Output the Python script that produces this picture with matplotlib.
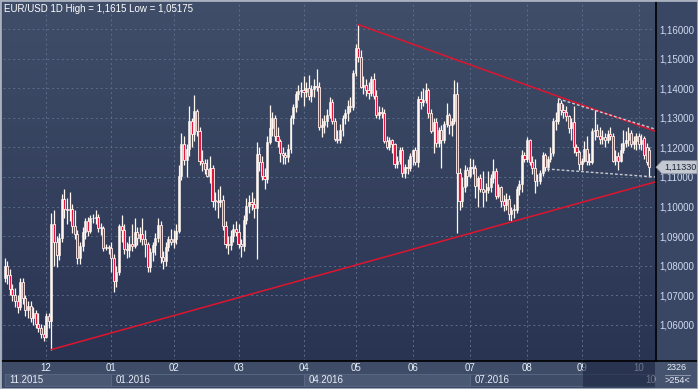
import numpy as np
import matplotlib
matplotlib.use('Agg')
import matplotlib.pyplot as plt
from matplotlib.patches import Rectangle, Polygon
from matplotlib.lines import Line2D

plt.rcParams['font.family'] = ['Liberation Sans', 'DejaVu Sans']

# daily candles, Nov 2015 .. Oct 2016
opens = [
    1.0760, 1.0800, 1.0770, 1.0720, 1.0700, 1.0680, 1.0660, 1.0745, 1.0690, 1.0650, 1.0665, 1.0625, 1.0640, 1.0605, 1.0590, 1.0570,
    1.0560, 1.0630, 1.0613, 1.0940, 1.0880, 1.0836, 1.0895, 1.1025, 1.0993, 1.0990, 1.0991, 1.0933, 1.0907, 1.0827, 1.0866, 1.0915, 1.0950, 1.0918, 1.0963, 1.0960, 1.0965, 1.0928, 1.0929, 1.0861, 1.0865,
    1.0860, 1.0827, 1.0748, 1.0780, 1.0933, 1.0922, 1.0857, 1.0853, 1.0873, 1.0866, 1.0915, 1.0894, 1.0906, 1.0889, 1.0872, 1.0796, 1.0847, 1.0869, 1.0893, 1.0938, 1.0830, 1.0815, 1.0862, 1.0890,
    1.0880, 1.0890, 1.0919, 1.1105, 1.1210, 1.1157, 1.1195, 1.1289, 1.1245, 1.1322, 1.1256, 1.1155, 1.1148, 1.1127, 1.1104, 1.1131, 1.1020, 1.1018, 1.1017, 1.1023, 1.0934, 1.0873, 1.0870, 1.0900, 1.0925,
    1.0915, 1.0873, 1.0867, 1.0955, 1.1002, 1.1014, 1.1008, 1.0995, 1.1178, 1.1152, 1.1105, 1.1094, 1.1217, 1.1267, 1.1300, 1.1240, 1.1222, 1.1180, 1.1175, 1.1166, 1.1196, 1.1300, 1.1335, 1.1380, 1.1390,
    1.1393, 1.1387, 1.1400, 1.1375, 1.1398, 1.1409, 1.1405, 1.1270, 1.1275, 1.1290, 1.1311, 1.1355, 1.1290, 1.1230, 1.1225, 1.1260, 1.1300, 1.1316, 1.1340, 1.1335,
    1.1450, 1.1535, 1.1505, 1.1405, 1.1410, 1.1395, 1.1385, 1.1430, 1.1375, 1.1310, 1.1320, 1.1315, 1.1222, 1.1200, 1.1225, 1.1210, 1.1145, 1.1155, 1.1190, 1.1115, 1.1135, 1.1130,
    1.1170, 1.1190, 1.1150, 1.1365, 1.1355, 1.1360, 1.1395, 1.1315, 1.1255, 1.1285, 1.1215, 1.1260, 1.1225, 1.1280, 1.1310, 1.1275, 1.1290, 1.1380, 1.1115, 1.1020, 1.1065, 1.1125,
    1.1105, 1.1135, 1.1130, 1.1070, 1.1095, 1.1060, 1.1050, 1.1055, 1.1065, 1.1095, 1.1120, 1.1035, 1.1065, 1.1020, 1.1005, 1.1025, 1.0975, 1.0990, 1.0990, 1.1060, 1.1075, 1.1175,
    1.1160, 1.1225, 1.1150, 1.1130, 1.1085, 1.1085, 1.1115, 1.1175, 1.1135, 1.1160, 1.1180, 1.1290, 1.1290, 1.1350, 1.1325, 1.1320, 1.1305, 1.1265, 1.1285, 1.1200, 1.1185,
    1.1145, 1.1155, 1.1195, 1.1155, 1.1150, 1.1255, 1.1260, 1.1240, 1.1230, 1.1235, 1.1225, 1.1245, 1.1240, 1.1155, 1.1170, 1.1155, 1.1190, 1.1215, 1.1225, 1.1250, 1.1210, 1.1220,
    1.1240, 1.1210, 1.1232, 1.1200, 1.1190,
]
highs = [
    1.0826, 1.0815, 1.0790, 1.0740, 1.0725, 1.0700, 1.0760, 1.0760, 1.0700, 1.0680, 1.0680, 1.0660, 1.0650, 1.0640, 1.0605, 1.0600,
    1.0640, 1.0640, 1.0980, 1.0990, 1.0900, 1.0910, 1.1042, 1.1060, 1.1030, 1.1050, 1.1010, 1.0990, 1.0920, 1.0880, 1.0930, 1.0960, 1.0965, 1.0970, 1.0975, 1.0990, 1.0975, 1.0945, 1.0935, 1.0875, 1.0870,
    1.0880, 1.0840, 1.0800, 1.0941, 1.0970, 1.0940, 1.0880, 1.0900, 1.0940, 1.0960, 1.0930, 1.0930, 1.0960, 1.0920, 1.0880, 1.0860, 1.0880, 1.0910, 1.0960, 1.0950, 1.0850, 1.0880, 1.0900, 1.0925,
    1.0920, 1.0940, 1.1140, 1.1250, 1.1240, 1.1210, 1.1340, 1.1300, 1.1376, 1.1330, 1.1270, 1.1190, 1.1160, 1.1160, 1.1170, 1.1140, 1.1050, 1.1060, 1.1070, 1.1040, 1.0950, 1.0900, 1.0920, 1.0940, 1.0950,
    1.0940, 1.0890, 1.0970, 1.1030, 1.1040, 1.1050, 1.1030, 1.1218, 1.1200, 1.1170, 1.1130, 1.1240, 1.1342, 1.1320, 1.1310, 1.1270, 1.1230, 1.1200, 1.1185, 1.1210, 1.1310, 1.1345, 1.1390, 1.1410, 1.1420,
    1.1440, 1.1420, 1.1445, 1.1410, 1.1430, 1.1465, 1.1420, 1.1300, 1.1310, 1.1330, 1.1370, 1.1365, 1.1300, 1.1260, 1.1280, 1.1310, 1.1330, 1.1360, 1.1370, 1.1460,
    1.1550, 1.1615, 1.1530, 1.1440, 1.1430, 1.1420, 1.1440, 1.1450, 1.1395, 1.1340, 1.1335, 1.1330, 1.1240, 1.1235, 1.1230, 1.1215, 1.1170, 1.1200, 1.1200, 1.1145, 1.1160, 1.1180,
    1.1195, 1.1200, 1.1375, 1.1390, 1.1400, 1.1416, 1.1400, 1.1330, 1.1300, 1.1300, 1.1270, 1.1275, 1.1290, 1.1350, 1.1315, 1.1300, 1.1428, 1.1420, 1.1130, 1.1100, 1.1140, 1.1135,
    1.1165, 1.1160, 1.1140, 1.1105, 1.1110, 1.1120, 1.1080, 1.1120, 1.1110, 1.1160, 1.1130, 1.1075, 1.1070, 1.1040, 1.1045, 1.1040, 1.1000, 1.1010, 1.1070, 1.1090, 1.1190, 1.1185,
    1.1234, 1.1228, 1.1170, 1.1160, 1.1110, 1.1125, 1.1185, 1.1180, 1.1170, 1.1200, 1.1300, 1.1320, 1.1366, 1.1360, 1.1345, 1.1340, 1.1310, 1.1300, 1.1340, 1.1210, 1.1190,
    1.1165, 1.1220, 1.1240, 1.1180, 1.1265, 1.1327, 1.1280, 1.1270, 1.1260, 1.1250, 1.1260, 1.1270, 1.1250, 1.1190, 1.1185, 1.1215, 1.1260, 1.1255, 1.1270, 1.1260, 1.1240, 1.1250,
    1.1250, 1.1245, 1.1240, 1.1215, 1.1200,
]
lows = [
    1.0745, 1.0740, 1.0700, 1.0680, 1.0660, 1.0640, 1.0650, 1.0670, 1.0630, 1.0625, 1.0610, 1.0600, 1.0590, 1.0575, 1.0555, 1.0545,
    1.0555, 1.0590, 1.0517, 1.0800, 1.0795, 1.0820, 1.0880, 1.0960, 1.0940, 1.0950, 1.0910, 1.0890, 1.0805, 1.0805, 1.0850, 1.0890, 1.0900, 1.0910, 1.0945, 1.0940, 1.0915, 1.0905, 1.0850, 1.0855, 1.0840,
    1.0780, 1.0710, 1.0730, 1.0770, 1.0880, 1.0840, 1.0825, 1.0830, 1.0850, 1.0860, 1.0870, 1.0880, 1.0870, 1.0830, 1.0780, 1.0780, 1.0815, 1.0835, 1.0880, 1.0810, 1.0790, 1.0800, 1.0850, 1.0870,
    1.0860, 1.0875, 1.0910, 1.1090, 1.1140, 1.1100, 1.1170, 1.1200, 1.1220, 1.1240, 1.1140, 1.1120, 1.1110, 1.1100, 1.1080, 1.1000, 1.0990, 1.0960, 1.1000, 1.0920, 1.0860, 1.0840, 1.0855, 1.0880, 1.0900,
    1.0860, 1.0830, 1.0850, 1.0940, 1.0980, 1.0990, 1.0960, 1.0822, 1.1120, 1.1090, 1.1060, 1.1080, 1.1210, 1.1240, 1.1220, 1.1200, 1.1150, 1.1145, 1.1145, 1.1150, 1.1180, 1.1280, 1.1320, 1.1360, 1.1370,
    1.1340, 1.1370, 1.1360, 1.1355, 1.1370, 1.1390, 1.1260, 1.1235, 1.1250, 1.1270, 1.1300, 1.1280, 1.1220, 1.1215, 1.1215, 1.1240, 1.1280, 1.1290, 1.1320, 1.1325,
    1.1440, 1.1490, 1.1400, 1.1380, 1.1375, 1.1365, 1.1375, 1.1365, 1.1300, 1.1295, 1.1300, 1.1215, 1.1195, 1.1190, 1.1180, 1.1130, 1.1130, 1.1145, 1.1100, 1.1097, 1.1110, 1.1120,
    1.1140, 1.1140, 1.1135, 1.1330, 1.1340, 1.1350, 1.1300, 1.1250, 1.1180, 1.1200, 1.1200, 1.1130, 1.1215, 1.1270, 1.1245, 1.1240, 1.1280, 1.0912, 1.0990, 1.1000, 1.1050, 1.1070,
    1.1095, 1.1110, 1.1030, 1.1000, 1.1050, 1.1000, 1.1020, 1.1045, 1.1050, 1.1080, 1.1025, 1.1030, 1.1000, 1.0985, 1.0990, 1.0955, 1.0952, 1.0960, 1.0980, 1.1040, 1.1050, 1.1150,
    1.1150, 1.1140, 1.1110, 1.1045, 1.1070, 1.1075, 1.1105, 1.1120, 1.1120, 1.1150, 1.1170, 1.1260, 1.1280, 1.1310, 1.1300, 1.1290, 1.1250, 1.1225, 1.1180, 1.1170, 1.1125,
    1.1125, 1.1150, 1.1140, 1.1140, 1.1145, 1.1225, 1.1235, 1.1210, 1.1210, 1.1200, 1.1215, 1.1225, 1.1150, 1.1140, 1.1125, 1.1150, 1.1180, 1.1200, 1.1205, 1.1200, 1.1195, 1.1190,
    1.1195, 1.1190, 1.1160, 1.1140, 1.1100,
]
closes = [
    1.0800, 1.0770, 1.0720, 1.0700, 1.0680, 1.0660, 1.0745, 1.0690, 1.0650, 1.0665, 1.0625, 1.0640, 1.0605, 1.0590, 1.0570, 1.0560,
    1.0630, 1.0613, 1.0940, 1.0880, 1.0836, 1.0895, 1.1025, 1.0993, 1.0990, 1.0991, 1.0933, 1.0907, 1.0827, 1.0866, 1.0915, 1.0950, 1.0918, 1.0963, 1.0960, 1.0965, 1.0928, 1.0929, 1.0861, 1.0865, 1.0860,
    1.0827, 1.0748, 1.0780, 1.0933, 1.0922, 1.0857, 1.0853, 1.0873, 1.0866, 1.0915, 1.0894, 1.0906, 1.0889, 1.0872, 1.0796, 1.0847, 1.0869, 1.0893, 1.0938, 1.0830, 1.0815, 1.0862, 1.0890, 1.0880,
    1.0890, 1.0919, 1.1105, 1.1210, 1.1157, 1.1195, 1.1289, 1.1245, 1.1322, 1.1256, 1.1155, 1.1148, 1.1127, 1.1104, 1.1131, 1.1020, 1.1018, 1.1017, 1.1023, 1.0934, 1.0873, 1.0870, 1.0900, 1.0925, 1.0915,
    1.0873, 1.0867, 1.0955, 1.1002, 1.1014, 1.1008, 1.0995, 1.1178, 1.1152, 1.1105, 1.1094, 1.1217, 1.1267, 1.1300, 1.1240, 1.1222, 1.1180, 1.1175, 1.1166, 1.1196, 1.1300, 1.1335, 1.1380, 1.1390, 1.1393,
    1.1387, 1.1400, 1.1375, 1.1398, 1.1409, 1.1405, 1.1270, 1.1275, 1.1290, 1.1311, 1.1355, 1.1290, 1.1230, 1.1225, 1.1260, 1.1300, 1.1316, 1.1340, 1.1335, 1.1450,
    1.1535, 1.1505, 1.1405, 1.1410, 1.1395, 1.1385, 1.1430, 1.1375, 1.1310, 1.1320, 1.1315, 1.1222, 1.1200, 1.1225, 1.1210, 1.1145, 1.1155, 1.1190, 1.1115, 1.1135, 1.1130, 1.1170,
    1.1190, 1.1150, 1.1365, 1.1355, 1.1360, 1.1395, 1.1315, 1.1255, 1.1285, 1.1215, 1.1260, 1.1225, 1.1280, 1.1310, 1.1275, 1.1290, 1.1380, 1.1115, 1.1020, 1.1065, 1.1125, 1.1105,
    1.1135, 1.1130, 1.1070, 1.1095, 1.1060, 1.1050, 1.1055, 1.1065, 1.1095, 1.1120, 1.1035, 1.1065, 1.1020, 1.1005, 1.1025, 1.0975, 1.0990, 1.0990, 1.1060, 1.1075, 1.1175, 1.1160,
    1.1225, 1.1150, 1.1130, 1.1085, 1.1085, 1.1115, 1.1175, 1.1135, 1.1160, 1.1180, 1.1290, 1.1290, 1.1350, 1.1325, 1.1320, 1.1305, 1.1265, 1.1285, 1.1200, 1.1185, 1.1145,
    1.1155, 1.1195, 1.1155, 1.1150, 1.1255, 1.1260, 1.1240, 1.1230, 1.1235, 1.1225, 1.1245, 1.1240, 1.1155, 1.1170, 1.1155, 1.1190, 1.1215, 1.1225, 1.1250, 1.1210, 1.1220, 1.1240,
    1.1210, 1.1225, 1.1175, 1.1150, 1.1133,
]

month_starts = [16, 41, 65, 90, 115, 135, 157, 179, 201, 222, 244]
month_labels = ['12', '01', '02', '03', '04', '05', '06', '07', '08', '09', '10']
period_labels = ['11.2015', '01.2016', '04.2016', '07.2016']
period_bounds = [(0.2, 41), (41, 115), (115, 179), (179, 250.2)]
price_ticks = [1.06, 1.07, 1.08, 1.09, 1.10, 1.11, 1.12, 1.13, 1.14, 1.15, 1.16]

# trend lines drawn on the chart: (index, price) end points
support_line = ([18, 250.2], [1.0517, 1.1083])
resist_line = ([136, 250.2], [1.1615, 1.1255])
dash_upper = ([213, 250.2], [1.1364, 1.1262])
dash_lower = ([208.7, 250.2], [1.1127, 1.1100])
last_price = 1.11330

W, H = 698, 389
fig = plt.figure(figsize=(W / 100, H / 100), dpi=100)
fig.patch.set_facecolor('#3a4764')

def fig_rect(x0, y0, x1, y1):
    # pixel box (top-left origin) -> figure fraction [l, b, w, h]
    return [x0 / W, 1 - y1 / H, (x1 - x0) / W, (y1 - y0) / H]

pos = fig_rect(3, 1, 655, 361)

# gradient background
bg = fig.add_axes(pos, zorder=0)
grad = np.linspace(0, 1, 256).reshape(-1, 1)
top_c = np.array([64, 78, 105]) / 255
bot_c = np.array([41, 52, 82]) / 255
img = top_c[None, None, :] * (1 - grad[:, :, None]) + bot_c[None, None, :] * grad[:, :, None]
bg.imshow(img, aspect='auto', extent=[0, 1, 0, 1])
bg.set_axis_off()

ax = fig.add_axes(pos, zorder=1)
ax.patch.set_alpha(0)

o = np.array(opens); h = np.array(highs); l = np.array(lows); c = np.array(closes)
x = np.arange(len(c))
up = c >= o
bottom = np.minimum(o, c)
height = np.maximum(np.abs(c - o), 0.0003)
cream = '#fff6f0'

ax.vlines(x, l, h, color=cream, linewidth=0.9, zorder=3)
ax.bar(x[up], height[up], bottom=bottom[up], width=0.75, color=cream, edgecolor=cream, linewidth=0.4, zorder=4)
ax.bar(x[~up], height[~up], bottom=bottom[~up], width=0.8, color='#e2173d', edgecolor=cream, linewidth=0.6, zorder=4)

ax.plot(*support_line, color='#e0142e', linewidth=1.1, zorder=5)
ax.plot(*resist_line, color='#e0142e', linewidth=1.1, zorder=5)
ax.plot(*dash_upper, color='#c9ccd4', linewidth=1.0, linestyle=(0, (2, 1.5)), zorder=5)
ax.plot(*dash_lower, color='#c9ccd4', linewidth=1.0, linestyle=(0, (2, 1.5)), zorder=5)

ax.set_xlim(-0.6, 250.2)
ax.set_ylim(1.16 - 332 / 2960, 1.16 + 28 / 2960)
ax.set_xticks(month_starts)
ax.set_yticks(price_ticks)
ax.set_yticklabels([f'{p:.5f}'.replace('.', ',') for p in price_ticks])
ax.yaxis.tick_right()
ax.tick_params(axis='y', length=0, pad=3, labelsize=7, labelcolor='#cfdbf0')
ax.tick_params(axis='x', length=0, labelbottom=False)
ax.grid(True, color='#5d6c8a', linestyle=(0, (2, 3)), linewidth=0.7)
for s in ax.spines.values():
    s.set_visible(False)

fig.text(4 / W, 1 - 9 / H, 'EUR/USD 1D High = 1,1615 Low = 1,05175', color='white',
         fontsize=7, va='center', ha='left')

# bottom time axis
axb = fig.add_axes(fig_rect(3, 361, 655, 387), sharex=ax, zorder=1)
axb.set_ylim(0, 1)
axb.set_axis_off()
axb.add_patch(Rectangle((-0.6, 0), 251, 1, color='#3e4c68', zorder=0))
for i, (lab, (a, b)) in enumerate(zip(period_labels, period_bounds)):
    fc = '#4a5873' if i % 2 == 0 else '#3e4c68'
    axb.add_patch(Rectangle((a, 0.03), b - a, 0.47, facecolor=fc, edgecolor='#5b6985', linewidth=0.6, zorder=1))
    axb.text(a + 1.8, 0.26, lab, color='#e8eef8', fontsize=7, va='center', ha='left', zorder=2)
for pos_i, lab in zip(month_starts, month_labels):
    axb.text(pos_i, 0.72, lab, color='#e8eef8', fontsize=7, va='center', ha='center', zorder=2)
axb.text(248.5, 0.26, '10', color='#e8eef8', fontsize=7, va='center', ha='center', zorder=2)
axb.add_patch(Rectangle((222.5, 0), 250.2 - 222.5, 1, facecolor='#1c2540', alpha=0.6, zorder=3))

# right bottom corner box
fig.patches.append(Rectangle((655 / W, 0), 43 / W, 28 / H, transform=fig.transFigure,
                             facecolor='#46536e', edgecolor='none', zorder=0))
fig.text(677 / W, 1 - 368 / H, '2326', color='#e8eef8', fontsize=6.5, ha='center', va='center')
fig.text(677 / W, 1 - 380.5 / H, '>254<', color='#e8eef8', fontsize=6.5, ha='center', va='center')
fig.lines.append(Line2D([665 / W, 690 / W], [1 - 374.5 / H] * 2, transform=fig.transFigure,
                        color='#9aa4b6', linewidth=0.6))

# separators and frame
fig.lines.append(Line2D([0, 1], [1 - 361 / H] * 2, transform=fig.transFigure, color='black', linewidth=1.2, zorder=5))
fig.lines.append(Line2D([655.5 / W] * 2, [1 - 361 / H, 1], transform=fig.transFigure, color='black', linewidth=1.2, zorder=5))
fig.patches.append(Rectangle((0, 0), 1, 1, transform=fig.transFigure, fill=False,
                             edgecolor='#a9b1bf', linewidth=2.0, zorder=10))

# last price tag
py = 1 - (29 + (1.16 - last_price) * 2960) / H
tag = Polygon([(656 / W, py), (662 / W, py + 6.5 / H), (697 / W, py + 6.5 / H),
               (697 / W, py - 6.5 / H), (662 / W, py - 6.5 / H)], closed=True,
              transform=fig.transFigure, facecolor='#c5cad2', edgecolor='#8c94a3', linewidth=0.5, zorder=6)
fig.patches.append(tag)
fig.text(664 / W, py, f'{last_price:.5f}'.replace('.', ','), color='#1e2638', fontsize=6.6,
         va='center', ha='left', zorder=7)

fig.savefig('out.png', dpi=100, facecolor=fig.get_facecolor())
